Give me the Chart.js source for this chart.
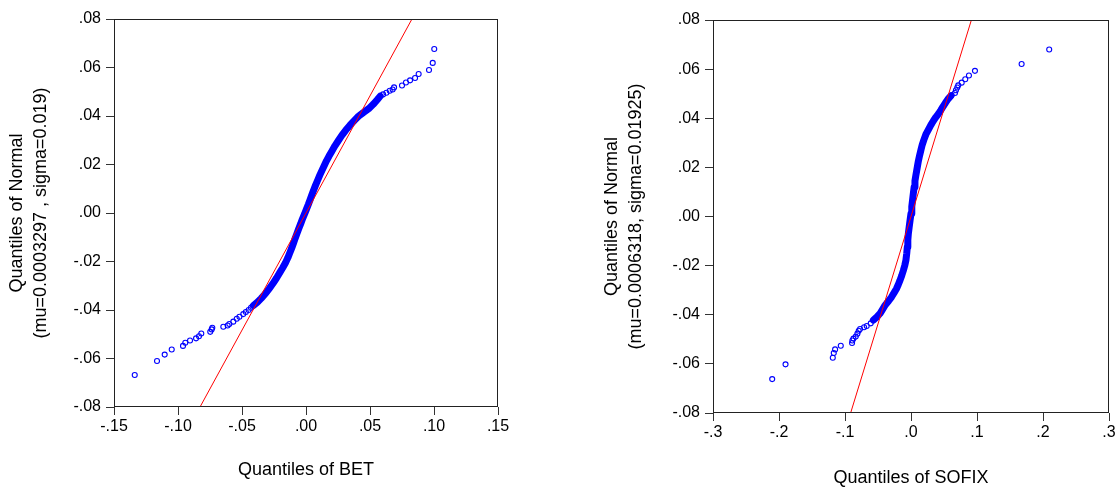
<!DOCTYPE html>
<html>
<head>
<meta charset="utf-8">
<script src="https://cdn.jsdelivr.net/npm/chart.js@4.4.1/dist/chart.umd.min.js"></script>
<style>
html, body { margin: 0; padding: 0; background: #fff; }
#wrap { position: relative; width: 1120px; height: 488px; overflow: hidden; }
.box { position: absolute; top: 0; width: 560px; height: 488px; }
</style>
</head>
<body>
<div id="wrap">
  <div class="box" style="left:0"><canvas id="betChart" width="560" height="488"></canvas></div>
  <div class="box" style="left:560px"><canvas id="sofixChart" width="560" height="488"></canvas></div>
</div>
<script>
// --- Datos ---

// BET: cola inferior (puntos sueltos)
const betLowX = [-0.1338, -0.1164, -0.1104, -0.1049, -0.0961, -0.0943, -0.0906, -0.0859, -0.0836, -0.0818, -0.0748, -0.0737, -0.0732, -0.0646, -0.0612, -0.0599, -0.0568, -0.0541, -0.0520, -0.0490, -0.0470, -0.0448, -0.0430];
const betLowY = [-0.0668, -0.0610, -0.0584, -0.0563, -0.0548, -0.0535, -0.0526, -0.0517, -0.0508, -0.0497, -0.0490, -0.0480, -0.0473, -0.0469, -0.0464, -0.0458, -0.0448, -0.0436, -0.0428, -0.0417, -0.0408, -0.0400, -0.0391];
// BET: banda densa central
const betBandX = [-0.0412, -0.0380, -0.0350, -0.0320, -0.0290, -0.0260, -0.0230, -0.0205, -0.0182, -0.0160, -0.0142, -0.0127, -0.0112, -0.0098, -0.0085, -0.0071, -0.0057, -0.0042, -0.0028, -0.0012, 0.0003, 0.0018, 0.0032, 0.0046, 0.0060, 0.0075, 0.0091, 0.0107, 0.0124, 0.0142, 0.0160, 0.0180, 0.0202, 0.0226, 0.0252, 0.0280, 0.0310, 0.0342, 0.0375, 0.0410, 0.0450, 0.0490, 0.0525, 0.0555, 0.0580];
const betBandY = [-0.0382, -0.0368, -0.0352, -0.0334, -0.0314, -0.0292, -0.0268, -0.0246, -0.0226, -0.0205, -0.0185, -0.0165, -0.0145, -0.0125, -0.0105, -0.0085, -0.0065, -0.0045, -0.0025, -0.0005, 0.0015, 0.0035, 0.0055, 0.0075, 0.0095, 0.0115, 0.0135, 0.0155, 0.0175, 0.0195, 0.0215, 0.0235, 0.0255, 0.0277, 0.0298, 0.0320, 0.0341, 0.0361, 0.0380, 0.0399, 0.0415, 0.0430, 0.0448, 0.0466, 0.0482];
// BET: cola superior
const betHighX = [0.0602, 0.0628, 0.0654, 0.0677, 0.0688, 0.0750, 0.0781, 0.0813, 0.0852, 0.0880, 0.0961, 0.0990, 0.1002];
const betHighY = [0.0489, 0.0496, 0.0504, 0.0509, 0.0518, 0.0526, 0.0538, 0.0547, 0.0557, 0.0573, 0.0590, 0.0619, 0.0676];
// BET: recta teórica
const betLineX = [-0.0828, 0.0828];
const betLineY = [-0.08, 0.08];

// SOFIX: cola inferior
const sofixLowX = [-0.2103, -0.1901, -0.1185, -0.1170, -0.1150, -0.1064, -0.0893, -0.0888, -0.0872, -0.0837, -0.0812, -0.0792, -0.0772, -0.0711, -0.0671, -0.0610];
const sofixLowY = [-0.0662, -0.0602, -0.0575, -0.0556, -0.0541, -0.0526, -0.0515, -0.0505, -0.0497, -0.0489, -0.0477, -0.0465, -0.0458, -0.0451, -0.0446, -0.0435];
// SOFIX: banda densa central
const sofixBandX = [-0.0570, -0.0520, -0.0470, -0.0435, -0.0394, -0.0340, -0.0293, -0.0255, -0.0220, -0.0192, -0.0167, -0.0140, -0.0116, -0.0095, -0.0077, -0.0065, -0.0056, -0.0048, -0.0040, -0.0027, -0.0014, 0.0000, 0.0012, 0.0024, 0.0036, 0.0048, 0.0060, 0.0072, 0.0085, 0.0098, 0.0112, 0.0130, 0.0150, 0.0170, 0.0195, 0.0225, 0.0260, 0.0300, 0.0340, 0.0375, 0.0415, 0.0450, 0.0480, 0.0520, 0.0560, 0.0600];
const sofixBandY = [-0.0422, -0.0410, -0.0395, -0.0380, -0.0362, -0.0344, -0.0327, -0.0310, -0.0294, -0.0277, -0.0260, -0.0240, -0.0220, -0.0200, -0.0178, -0.0151, -0.0124, -0.0096, -0.0069, -0.0042, -0.0015, 0.0012, 0.0040, 0.0068, 0.0095, 0.0120, 0.0145, 0.0165, 0.0185, 0.0205, 0.0226, 0.0248, 0.0270, 0.0292, 0.0312, 0.0334, 0.0352, 0.0372, 0.0390, 0.0404, 0.0418, 0.0432, 0.0445, 0.0462, 0.0478, 0.0490];
// SOFIX: cola superior
const sofixHighX = [0.0616, 0.0666, 0.0681, 0.0701, 0.0716, 0.0768, 0.0822, 0.0878, 0.0969, 0.1676, 0.2094];
const sofixHighY = [0.0494, 0.0503, 0.0514, 0.0525, 0.0534, 0.0545, 0.0559, 0.0574, 0.0593, 0.0621, 0.0680];
// SOFIX: recta teórica
const sofixLineX = [-0.0915, 0.0915];
const sofixLineY = [-0.08, 0.08];

// Ejes
const yTicks = [-0.08, -0.06, -0.04, -0.02, 0, 0.02, 0.04, 0.06, 0.08];
const yLabels = ['-.08', '-.06', '-.04', '-.02', '.00', '.02', '.04', '.06', '.08'];
const betXTicks = [-0.15, -0.10, -0.05, 0, 0.05, 0.10, 0.15];
const betXLabels = ['-.15', '-.10', '-.05', '.00', '.05', '.10', '.15'];
const sofixXTicks = [-0.3, -0.2, -0.1, 0, 0.1, 0.2, 0.3];
const sofixXLabels = ['-.3', '-.2', '-.1', '.0', '.1', '.2', '.3'];

Chart.defaults.font.family = "'Liberation Sans', Arial, sans-serif";
Chart.defaults.color = '#000';

const BLUE = '#0000ff';
const RED = '#ff0000';

function zip(xs, ys) {
    return xs.map((x, i) => ({ x: x, y: ys[i] }));
}

// Marco completo alrededor del área del gráfico
const framePlugin = {
    id: 'frame',
    afterDraw(chart) {
        const { ctx, chartArea: a } = chart;
        ctx.save();
        ctx.strokeStyle = '#222';
        ctx.lineWidth = 1;
        ctx.strokeRect(Math.round(a.left) + 0.5, Math.round(a.top) + 0.5,
            Math.round(a.right - a.left) - 1, Math.round(a.bottom - a.top) - 1);
        ctx.restore();
    }
};

function makeChart(id, c) {
    const ctx = document.getElementById(id).getContext('2d');
    return new Chart(ctx, {
        type: 'scatter',
        data: {
            datasets: [
                {
                    data: zip(c.lineX, c.lineY),
                    showLine: true,
                    borderColor: RED,
                    borderWidth: 1,
                    pointRadius: 0
                },
                {
                    data: zip(c.bandX, c.bandY),
                    showLine: true,
                    borderColor: BLUE,
                    borderWidth: 7,
                    borderCapStyle: 'round',
                    borderJoinStyle: 'round',
                    pointRadius: 0
                },
                {
                    data: zip(c.lowX, c.lowY).concat(zip(c.highX, c.highY)),
                    pointStyle: 'circle',
                    pointRadius: 2.5,
                    borderWidth: 1.1,
                    borderColor: BLUE,
                    backgroundColor: 'rgba(0,0,0,0)'
                }
            ]
        },
        options: {
            responsive: false,
            animation: false,
            events: [],
            layout: { padding: { top: c.padTop, right: c.padRight, left: 0, bottom: 0 } },
            plugins: { legend: { display: false }, tooltip: { enabled: false } },
            scales: {
                x: {
                    type: 'linear',
                    min: c.xTicks[0],
                    max: c.xTicks[c.xTicks.length - 1],
                    afterBuildTicks: s => { s.ticks = c.xTicks.map(v => ({ value: v })); },
                    afterFit: s => { s.height = c.xHeight; s.paddingLeft = 0; s.paddingRight = 0; },
                    border: { display: false },
                    grid: { drawOnChartArea: false, drawTicks: true, tickLength: 8, tickColor: '#333', lineWidth: 1 },
                    ticks: {
                        autoSkip: false, maxRotation: 0, padding: 2,
                        font: { size: 16 },
                        callback: (v, i) => c.xLabels[i]
                    },
                    title: {
                        display: true,
                        text: c.xTitle,
                        font: { size: 18, lineHeight: 1.333 },
                        padding: { top: 0, bottom: c.xTitlePad }
                    }
                },
                y: {
                    type: 'linear',
                    min: -0.08,
                    max: 0.08,
                    afterBuildTicks: s => { s.ticks = yTicks.map(v => ({ value: v })); },
                    afterFit: s => { s.width = c.yWidth; s.paddingTop = 0; s.paddingBottom = 0; },
                    border: { display: false },
                    grid: { drawOnChartArea: false, drawTicks: true, tickLength: 8, tickColor: '#333', lineWidth: 1 },
                    ticks: {
                        padding: 5,
                        font: { size: 16 },
                        callback: (v, i) => yLabels[i]
                    },
                    title: {
                        display: true,
                        text: c.yTitle,
                        font: { size: 18, lineHeight: 1.333 },
                        padding: { top: c.yTitlePad, bottom: 0 }
                    }
                }
            }
        },
        plugins: [framePlugin]
    });
}

makeChart('betChart', {
    lineX: betLineX, lineY: betLineY,
    bandX: betBandX, bandY: betBandY,
    lowX: betLowX, lowY: betLowY,
    highX: betHighX, highY: betHighY,
    xTicks: betXTicks, xLabels: betXLabels,
    xTitle: 'Quantiles of BET',
    yTitle: ['Quantiles of Normal', '(mu=0.0003297 , sigma=0.019)'],
    yWidth: 114, xHeight: 81, padTop: 19, padRight: 62,
    yTitlePad: 5, xTitlePad: 6
});

makeChart('sofixChart', {
    lineX: sofixLineX, lineY: sofixLineY,
    bandX: sofixBandX, bandY: sofixBandY,
    lowX: sofixLowX, lowY: sofixLowY,
    highX: sofixHighX, highY: sofixHighY,
    xTicks: sofixXTicks, xLabels: sofixXLabels,
    xTitle: 'Quantiles of SOFIX',
    yTitle: ['Quantiles of Normal', '(mu=0.0006318, sigma=0.01925)'],
    yWidth: 153, xHeight: 75, padTop: 20, padRight: 11,
    yTitlePad: 40, xTitlePad: -2
});
</script>
</body>
</html>
